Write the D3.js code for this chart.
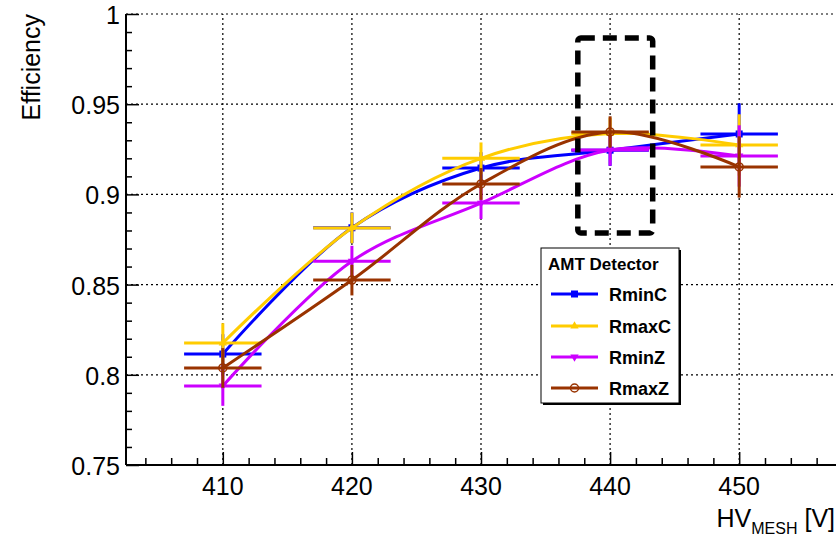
<!DOCTYPE html>
<html>
<head>
<meta charset="utf-8">
<script src="https://cdn.jsdelivr.net/npm/d3@7"></script>
<style>
  body { margin: 0; background: #fff; }
  svg { display: block; font-family: "Liberation Sans", Arial, sans-serif; }
</style>
</head>
<body>
<div id="chart"></div>
<script>
// HV scan points and measured efficiencies
const voltages = [410, 420, 430, 440, 450];
const rminC = [0.8115, 0.8815, 0.9146, 0.9245, 0.9335];
const rmaxC = [0.8176, 0.8814, 0.9200, 0.9338, 0.9274];
const rminZ = [0.7938, 0.8630, 0.8952, 0.9246, 0.9213];
const rmaxZ = [0.8038, 0.8525, 0.9058, 0.9346, 0.9152];
const yErr = [0.011, 0.0085, 0.0088, 0.0087, 0.017];
const xErr = 3;
const xTicks = [410, 420, 430, 440, 450];
const yTicks = [0.75, 0.8, 0.85, 0.9, 0.95, 1];
const boxX = [437.5, 443.3];
const boxY = [0.8786, 0.9867];

const series = [
  {name: "RminC", values: rminC, color: "#0000ff", marker: "square"},
  {name: "RmaxC", values: rmaxC, color: "#ffcc00", marker: "triangle"},
  {name: "RminZ", values: rminZ, color: "#cc00ff", marker: "triangleDown"},
  {name: "RmaxZ", values: rmaxZ, color: "#993300", marker: "circle"}
];

const W = 837, H = 539;
const margin = {top: 14, right: 1, bottom: 74, left: 126};

const svg = d3.select("#chart").append("svg")
    .attr("width", W)
    .attr("height", H);

const x = d3.scaleLinear().domain([402.5, 457.5]).range([margin.left, W - margin.right]);
const y = d3.scaleLinear().domain([0.75, 1]).range([H - margin.bottom, margin.top]);

const x0 = margin.left, x1 = W - margin.right, yb = H - margin.bottom, yt = margin.top;

// grid
const grid = svg.append("g")
    .attr("stroke", "#000")
    .attr("stroke-width", 1.2)
    .attr("stroke-dasharray", "2,3");
grid.selectAll(".gx").data(xTicks).enter().append("line")
    .attr("x1", d => x(d)).attr("x2", d => x(d))
    .attr("y1", yb).attr("y2", yt);
grid.selectAll(".gy").data(yTicks.slice(1)).enter().append("line")
    .attr("x1", x0).attr("x2", x1)
    .attr("y1", d => y(d)).attr("y2", d => y(d));

// axes (ticks pointing inside the frame)
const xAxis = d3.axisTop(x).tickValues(xTicks).tickSize(13).tickFormat("");
const yAxis = d3.axisRight(y).tickValues(yTicks).tickSize(13).tickFormat("");
const xMinor = d3.range(404, 458, 2).filter(v => v % 10 !== 0);
const yMinor = d3.range(76, 100).map(v => v / 100).filter(v => Math.round(v * 100) % 5 !== 0);

const gx = svg.append("g").attr("transform", `translate(0,${yb})`).call(xAxis);
svg.append("g").attr("transform", `translate(0,${yb})`)
    .call(d3.axisTop(x).tickValues(xMinor).tickSize(7).tickFormat(""));
const gy = svg.append("g").attr("transform", `translate(${x0},0)`).call(yAxis);
svg.append("g").attr("transform", `translate(${x0},0)`)
    .call(d3.axisRight(y).tickValues(yMinor).tickSize(6).tickFormat(""));
svg.selectAll(".domain").remove();
svg.selectAll(".tick line").attr("stroke", "#000").attr("stroke-width", 1.5);

svg.append("line").attr("x1", x0).attr("x2", x1).attr("y1", yb).attr("y2", yb)
    .attr("stroke", "#000").attr("stroke-width", 2);
svg.append("line").attr("x1", x0).attr("x2", x0).attr("y1", yt).attr("y2", yb)
    .attr("stroke", "#000").attr("stroke-width", 2);

// tick labels
svg.append("g").selectAll("text").data(xTicks).enter().append("text")
    .attr("x", d => x(d)).attr("y", yb + 30)
    .attr("text-anchor", "middle")
    .attr("font-size", 25)
    .text(d => d);
svg.append("g").selectAll("text").data(yTicks).enter().append("text")
    .attr("x", x0 - 6).attr("y", d => y(d) + 10)
    .attr("text-anchor", "end")
    .attr("font-size", 25)
    .text(d => d3.format("")(d));

// axis titles
const xt = svg.append("text")
    .attr("x", 835).attr("y", 527)
    .attr("text-anchor", "end")
    .attr("font-size", 25);
xt.append("tspan").text("HV");
xt.append("tspan").attr("font-size", 16).attr("dy", 7).text("MESH");
xt.append("tspan").attr("dy", -7).text(" [V]");

svg.append("text")
    .attr("transform", "translate(40,14) rotate(-90)")
    .attr("text-anchor", "end")
    .attr("font-size", 25)
    .text("Efficiency");

// curves, error bars and markers
const line = d3.line()
    .x((d, i) => x(voltages[i]))
    .y(d => y(d))
    .curve(d3.curveCatmullRom.alpha(0.5));

function marker(g, type, color, cx, cy) {
  if (type === "square") {
    g.append("rect").attr("x", cx - 3.5).attr("y", cy - 3.5).attr("width", 7).attr("height", 7).attr("fill", color);
  } else if (type === "triangle") {
    g.append("path").attr("d", d3.symbol(d3.symbolTriangle, 30)()).attr("transform", `translate(${cx},${cy})`).attr("fill", color);
  } else if (type === "triangleDown") {
    g.append("path").attr("d", d3.symbol(d3.symbolTriangle, 30)()).attr("transform", `translate(${cx},${cy}) rotate(180)`).attr("fill", color);
  } else {
    g.append("circle").attr("cx", cx).attr("cy", cy).attr("r", 4).attr("fill", "none").attr("stroke", color).attr("stroke-width", 1.5);
  }
}

series.forEach(s => {
  const g = svg.append("g");
  g.append("path")
    .datum(s.values)
    .attr("d", line)
    .attr("fill", "none")
    .attr("stroke", s.color)
    .attr("stroke-width", 3);
  s.values.forEach((v, i) => {
    g.append("line")
      .attr("x1", x(voltages[i] - xErr)).attr("x2", x(voltages[i] + xErr))
      .attr("y1", y(v)).attr("y2", y(v))
      .attr("stroke", s.color).attr("stroke-width", 3);
    g.append("line")
      .attr("x1", x(voltages[i])).attr("x2", x(voltages[i]))
      .attr("y1", y(v - yErr[i])).attr("y2", y(v + yErr[i]))
      .attr("stroke", s.color).attr("stroke-width", 3);
    marker(g, s.marker, s.color, x(voltages[i]), y(v));
  });
});

// highlight box around the 440 V point
svg.append("rect")
    .attr("x", x(boxX[0])).attr("y", y(boxY[1]))
    .attr("width", x(boxX[1]) - x(boxX[0]))
    .attr("height", y(boxY[0]) - y(boxY[1]))
    .attr("rx", 3)
    .attr("fill", "none")
    .attr("stroke", "#000")
    .attr("stroke-width", 5.5)
    .attr("stroke-dasharray", "14,8");

// legend
const lg = svg.append("g");
lg.append("rect").attr("x", 543).attr("y", 250).attr("width", 138).attr("height", 155).attr("fill", "#000");
lg.append("rect").attr("x", 541).attr("y", 248).attr("width", 138).attr("height", 155)
    .attr("fill", "#fff").attr("stroke", "#000").attr("stroke-width", 1);
lg.append("text").attr("x", 548).attr("y", 270)
    .attr("font-size", 17).attr("font-weight", "bold").text("AMT Detector");
const rowY = [294, 326, 357, 388];
series.forEach((s, i) => {
  lg.append("line").attr("x1", 551).attr("x2", 598).attr("y1", rowY[i]).attr("y2", rowY[i])
    .attr("stroke", s.color).attr("stroke-width", 3);
  marker(lg, s.marker, s.color, 574.5, rowY[i]);
  lg.append("text").attr("x", 609).attr("y", rowY[i] + 7)
    .attr("font-size", 18).attr("font-weight", "bold").text(s.name);
});
</script>
</body>
</html>
